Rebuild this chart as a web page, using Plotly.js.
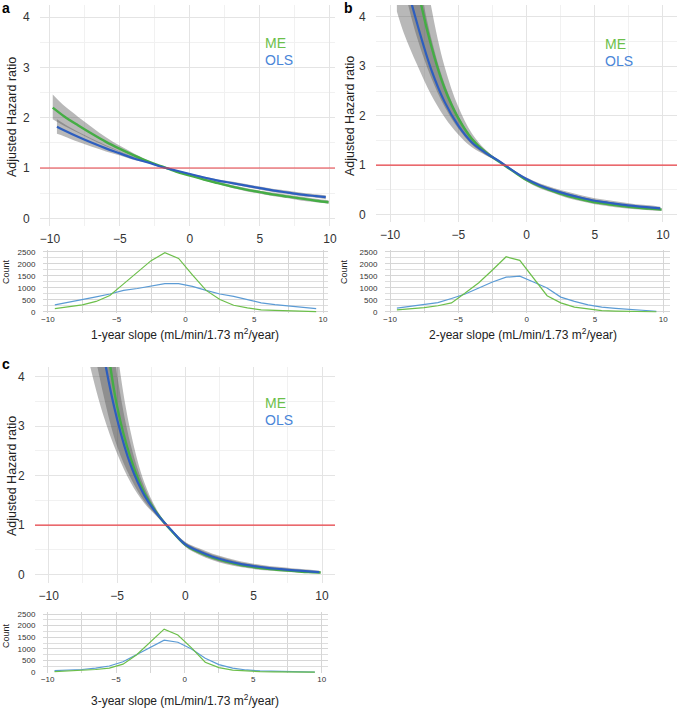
<!DOCTYPE html>
<html>
<head>
<meta charset="utf-8">
<script src="https://cdn.plot.ly/plotly-3.0.1.min.js"></script>
<style>
html,body{margin:0;padding:0;background:#fff;}
#chart{width:677px;height:708px;}
</style>
</head>
<body>
<div id="chart"></div>
<script>
// ---------- Panel a (1-year slope) ----------
const xA_ME  = [-9.8,-9,-8,-7,-6,-5,-4,-3,-2,-1,0,1,2,3,4,5,6,7,8,9,9.9];
const hrA_ME = [2.20,2.03,1.85,1.68,1.52,1.38,1.25,1.13,1.03,0.93,0.85,0.77,0.70,0.63,0.57,0.52,0.47,0.43,0.39,0.35,0.32];
const hiA_ME = [2.46,2.24,2.02,1.81,1.61,1.44,1.29,1.15,1.03,0.94,0.86,0.79,0.73,0.66,0.60,0.55,0.51,0.47,0.43,0.39,0.36];
const loA_ME = [1.97,1.84,1.70,1.56,1.43,1.32,1.21,1.11,1.03,0.92,0.84,0.75,0.68,0.60,0.54,0.49,0.44,0.40,0.35,0.32,0.29];
const xA_OLS  = [-9.5,-9,-8,-7,-6,-5,-4,-3,-2,-1,0,1,2,3,4,5,6,7,8,9,9.7];
const hrA_OLS = [1.82,1.75,1.62,1.50,1.39,1.29,1.19,1.11,1.02,0.95,0.88,0.81,0.75,0.70,0.65,0.60,0.55,0.51,0.47,0.44,0.42];
const hiA_OLS = [1.97,1.88,1.72,1.58,1.45,1.33,1.22,1.13,1.02,0.96,0.89,0.83,0.77,0.73,0.68,0.63,0.58,0.55,0.51,0.48,0.46];
const loA_OLS = [1.68,1.63,1.52,1.42,1.33,1.25,1.16,1.10,1.02,0.94,0.87,0.79,0.73,0.68,0.62,0.57,0.52,0.48,0.44,0.41,0.38];

// ---------- Panel b (2-year slope) ----------
const xB_ME  = [-9.5,-9,-8,-7,-6,-5,-4,-3,-2,-1,0,1,2,3,4,5,6,7,8,9,9.9];
const hrB_ME = [7.4,6.3,4.62,3.43,2.55,1.95,1.53,1.26,1.07,0.88,0.70,0.57,0.47,0.38,0.31,0.25,0.21,0.17,0.14,0.12,0.10];
const hiB_ME = [10.4,8.62,5.99,4.23,2.99,2.18,1.64,1.31,1.08,0.89,0.73,0.61,0.52,0.43,0.36,0.30,0.26,0.21,0.18,0.16,0.135];
const loB_ME = [5.26,4.61,3.56,2.78,2.18,1.74,1.42,1.21,1.06,0.87,0.67,0.53,0.43,0.335,0.27,0.21,0.17,0.135,0.11,0.09,0.074];
const xB_OLS  = [-9.5,-9,-8,-7,-6,-5,-4,-3,-2,-1,0,1,2,3,4,5,6,7,8,9,9.8];
const hrB_OLS = [5.6,4.9,3.85,2.95,2.28,1.80,1.46,1.25,1.08,0.89,0.72,0.59,0.49,0.41,0.34,0.28,0.24,0.20,0.17,0.145,0.125];
const hiB_OLS = [7.64,6.52,4.91,3.59,2.64,2.00,1.56,1.30,1.09,0.90,0.75,0.63,0.54,0.46,0.39,0.33,0.29,0.25,0.21,0.19,0.16];
const loB_OLS = [4.11,3.68,3.02,2.43,1.97,1.62,1.36,1.20,1.07,0.88,0.69,0.55,0.45,0.36,0.30,0.24,0.20,0.16,0.135,0.11,0.095];

// ---------- Panel c (3-year slope) ----------
const xC_ME  = [-7.5,-7,-6,-5,-4,-3,-2,-1,0,1,2,3,4,5,6,7,8,9,9.9];
const hrC_ME = [10.5,8.0,5.25,3.41,2.35,1.65,1.21,0.88,0.60,0.45,0.34,0.26,0.195,0.15,0.115,0.09,0.07,0.05,0.04];
const hiC_ME = [18.4,13.2,7.81,4.58,2.88,1.86,1.27,0.90,0.65,0.51,0.40,0.32,0.25,0.20,0.16,0.13,0.10,0.078,0.065];
const loC_ME = [6.26,5.06,3.64,2.60,1.95,1.48,1.16,0.86,0.56,0.40,0.29,0.21,0.15,0.11,0.083,0.063,0.047,0.032,0.025];
const xC_OLS  = [-7.5,-7,-6,-5,-4,-3,-2,-1,0,1,2,3,4,5,6,7,8,9,9.8];
const hrC_OLS = [7.7,6.4,4.48,3.15,2.21,1.60,1.20,0.89,0.61,0.47,0.36,0.28,0.215,0.17,0.135,0.11,0.085,0.065,0.05];
const hiC_OLS = [12.1,9.62,6.23,4.05,2.63,1.77,1.25,0.91,0.66,0.53,0.42,0.34,0.27,0.22,0.18,0.15,0.12,0.10,0.078];
const loC_OLS = [4.91,4.25,3.22,2.45,1.86,1.44,1.15,0.87,0.57,0.42,0.31,0.23,0.17,0.13,0.10,0.08,0.06,0.043,0.032];

// reference hazard ratio (red line)
const refHR = 1;

// ---------- Slope distributions (counts) ----------
const binMid = [-9.5,-8.5,-7.5,-6.5,-5.5,-4.5,-3.5,-2.5,-1.5,-0.5,0.5,1.5,2.5,3.5,4.5,5.5,6.5,7.5,8.5,9.5];
const cntA_ME  = [140,230,300,440,690,1170,1650,2140,2470,2230,1550,900,520,280,170,90,70,55,35,15];
const cntA_OLS = [300,400,520,630,750,900,980,1070,1180,1180,1070,900,750,650,510,380,310,250,190,140];
const cntB_ME  = [90,130,180,260,380,790,1220,1750,2300,2150,1410,680,380,200,130,60,40,30,20,10];
const cntB_OLS = [160,230,300,390,560,750,1000,1250,1450,1490,1250,1000,620,440,300,200,150,100,60,30];
const cntC_ME  = [30,50,80,120,180,350,750,1300,1850,1600,1050,430,200,90,50,30,15,10,5,5];
const cntC_OLS = [70,90,120,180,270,450,750,1050,1380,1290,1000,600,330,180,100,60,40,25,15,5];

const xTitles = ['1-year slope (mL/min/1.73 m<sup>2</sup>/year)',
                 '2-year slope (mL/min/1.73 m<sup>2</sup>/year)',
                 '3-year slope (mL/min/1.73 m<sup>2</sup>/year)'];
const panelLetters = ['a','b','c'];

// ---------- styling ----------
const W = 677, H = 708;
const FONT = 'Liberation Sans, Arial, sans-serif';
const GREEN_LINE = '#45ad45', BLUE_LINE = '#2d5ebf';
const GREEN_TXT = '#6cc04a', BLUE_TXT = '#4a86d8';
const GREEN_H = '#6cbf4a', BLUE_H = '#5b9bd5';
const BAND = 'rgba(85,85,85,0.42)';
const RED = '#ea4146';

function xd(a, b) { return [a / W, b / W]; }
function yd(t, b) { return [1 - b / H, 1 - t / H]; }

const traces = [];
function hrPanel(ax, xME, hME, hiME, loME, xOLS, hOLS, hiOLS, loOLS) {
  const base = {type: 'scatter', mode: 'lines', xaxis: 'x' + ax, yaxis: 'y' + ax, hoverinfo: 'skip', showlegend: false};
  traces.push(Object.assign({}, base, {x: xME, y: loME, line: {width: 0, shape: 'spline', color: 'rgba(0,0,0,0)'}}));
  traces.push(Object.assign({}, base, {x: xME, y: hiME, line: {width: 0, shape: 'spline', color: 'rgba(0,0,0,0)'}, fill: 'tonexty', fillcolor: BAND}));
  traces.push(Object.assign({}, base, {x: xOLS, y: loOLS, line: {width: 0, shape: 'spline', color: 'rgba(0,0,0,0)'}}));
  traces.push(Object.assign({}, base, {x: xOLS, y: hiOLS, line: {width: 0, shape: 'spline', color: 'rgba(0,0,0,0)'}, fill: 'tonexty', fillcolor: BAND}));
  traces.push(Object.assign({}, base, {x: xME, y: hME, line: {width: 2.4, color: GREEN_LINE, shape: 'spline'}}));
  traces.push(Object.assign({}, base, {x: xOLS, y: hOLS, line: {width: 2.2, color: BLUE_LINE, shape: 'spline'}}));
}
function histPanel(ax, cME, cOLS) {
  const base = {type: 'scatter', mode: 'lines', xaxis: 'x' + ax, yaxis: 'y' + ax, hoverinfo: 'skip', showlegend: false};
  traces.push(Object.assign({}, base, {x: binMid, y: cOLS, line: {width: 1.2, color: BLUE_H}}));
  traces.push(Object.assign({}, base, {x: binMid, y: cME, line: {width: 1.2, color: GREEN_H}}));
}

hrPanel('', xA_ME, hrA_ME, hiA_ME, loA_ME, xA_OLS, hrA_OLS, hiA_OLS, loA_OLS);
histPanel('2', cntA_ME, cntA_OLS);
hrPanel('3', xB_ME, hrB_ME, hiB_ME, loB_ME, xB_OLS, hrB_OLS, hiB_OLS, loB_OLS);
histPanel('4', cntB_ME, cntB_OLS);
hrPanel('5', xC_ME, hrC_ME, hiC_ME, loC_ME, xC_OLS, hrC_OLS, hiC_OLS, loC_OLS);
histPanel('6', cntC_ME, cntC_OLS);

const shapes = [['x', 'y'], ['x3', 'y3'], ['x5', 'y5']].map(p => ({
  type: 'line', xref: p[0] + ' domain', x0: 0, x1: 1,
  yref: p[1], y0: refHR, y1: refHR,
  line: {color: RED, width: 1.2}, layer: 'above'
}));

function topX(dom, range, anchor) {
  return {domain: dom, range: range, anchor: anchor, dtick: 5, tick0: 0, showgrid: true, gridcolor: '#e4e4e4', gridwidth: 1,
    zeroline: false, showline: false, ticks: 'outside', ticklen: 2, tickcolor: 'rgba(0,0,0,0)',
    tickfont: {family: FONT, size: 12, color: '#333'},
    minor: {dtick: 2.5, showgrid: true, gridcolor: '#f1f1f1', ticks: ''}, fixedrange: true};
}
function topY(dom, range, anchor) {
  return {domain: dom, range: range, anchor: anchor, dtick: 1, tick0: 0, showgrid: true, gridcolor: '#e4e4e4',
    zeroline: false, showline: false, ticks: 'outside', ticklen: 7, tickcolor: 'rgba(0,0,0,0)',
    tickfont: {family: FONT, size: 12, color: '#333'},
    minor: {dtick: 0.5, showgrid: true, gridcolor: '#f1f1f1', ticks: ''}, fixedrange: true};
}
function histX(dom, range, anchor) {
  return {domain: dom, range: range, anchor: anchor, dtick: 5, tick0: 0, showgrid: true, gridcolor: '#d6d6d6',
    zeroline: false, showline: false, ticks: '',
    tickfont: {family: FONT, size: 8, color: '#333'},
    minor: {dtick: 2.5, showgrid: true, gridcolor: '#d6d6d6', ticks: ''}, fixedrange: true};
}
function histY(dom, range, anchor) {
  return {domain: dom, range: range, anchor: anchor, dtick: 500, tick0: 0, showgrid: true, gridcolor: '#d6d6d6',
    zeroline: false, showline: false, ticks: 'outside', ticklen: 5, tickcolor: 'rgba(0,0,0,0)',
    tickfont: {family: FONT, size: 8, color: '#333'},
    minor: {dtick: 250, showgrid: true, gridcolor: '#dedede', ticks: ''}, fixedrange: true};
}

const ann = [];
function px(x, y) { return {x: x / W, y: 1 - y / H, xref: 'paper', yref: 'paper', showarrow: false}; }
function addText(x, y, text, opts) { ann.push(Object.assign(px(x, y), {text: text}, opts)); }

addText(0, 8, '<b>' + panelLetters[0] + '</b>', {xanchor: 'left', yanchor: 'middle', font: {family: FONT, size: 14, color: '#000'}});
addText(342, 8, '<b>' + panelLetters[1] + '</b>', {xanchor: 'left', yanchor: 'middle', font: {family: FONT, size: 14, color: '#000'}});
addText(0, 364, '<b>' + panelLetters[2] + '</b>', {xanchor: 'left', yanchor: 'middle', font: {family: FONT, size: 14, color: '#000'}});
[[263, 43], [603, 44], [263, 403]].forEach(p => {
  addText(p[0], p[1], 'ME', {xanchor: 'left', yanchor: 'middle', font: {family: FONT, size: 14, color: GREEN_TXT}});
  addText(p[0], p[1] + 17, 'OLS', {xanchor: 'left', yanchor: 'middle', font: {family: FONT, size: 14, color: BLUE_TXT}});
});
[[12, 117], [350, 116], [12, 476]].forEach(p => {
  addText(p[0], p[1], 'Adjusted Hazard ratio', {textangle: -90, xanchor: 'center', yanchor: 'middle', font: {family: FONT, size: 12.5, color: '#222'}});
});
[[6, 272], [344, 272], [6, 636]].forEach(p => {
  addText(p[0], p[1], 'Count', {textangle: -90, xanchor: 'center', yanchor: 'middle', font: {family: FONT, size: 9, color: '#222'}});
});
addText(185, 334, xTitles[0], {xanchor: 'center', yanchor: 'middle', font: {family: FONT, size: 12, color: '#222'}});
addText(523, 334, xTitles[1], {xanchor: 'center', yanchor: 'middle', font: {family: FONT, size: 12, color: '#222'}});
addText(185, 700, xTitles[2], {xanchor: 'center', yanchor: 'middle', font: {family: FONT, size: 12, color: '#222'}});

const layout = {
  width: W, height: H, margin: {l: 0, r: 0, t: 0, b: 0},
  paper_bgcolor: '#fff', plot_bgcolor: '#fff', showlegend: false,
  font: {family: FONT},
  xaxis:  topX(xd(40, 335), [-10.71, 10.36], 'y'),
  yaxis:  topY(yd(5, 226), [-0.153, 4.24], 'x'),
  xaxis2: histX(xd(43, 328), [-10.36, 10.36], 'y2'),
  yaxis2: histY(yd(250, 313), [-42, 2583], 'x2'),
  xaxis3: topX(xd(376, 677), [-11.03, 11.03], 'y3'),
  yaxis3: topY(yd(5, 222), [-0.15, 4.24], 'x3'),
  xaxis4: histX(xd(385, 670), [-10.37, 10.5], 'y4'),
  yaxis4: histY(yd(250, 313), [-42, 2583], 'x4'),
  xaxis5: topX(xd(35, 335), [-11.0, 10.95], 'y5'),
  yaxis5: topY(yd(367, 583), [-0.171, 4.196], 'x5'),
  xaxis6: histX(xd(43, 328), [-10.34, 10.46], 'y6'),
  yaxis6: histY(yd(612, 673), [-30, 2586], 'x6'),
  shapes: shapes,
  annotations: ann
};

Plotly.newPlot('chart', traces, layout, {staticPlot: true, displayModeBar: false});
</script>
</body>
</html>
